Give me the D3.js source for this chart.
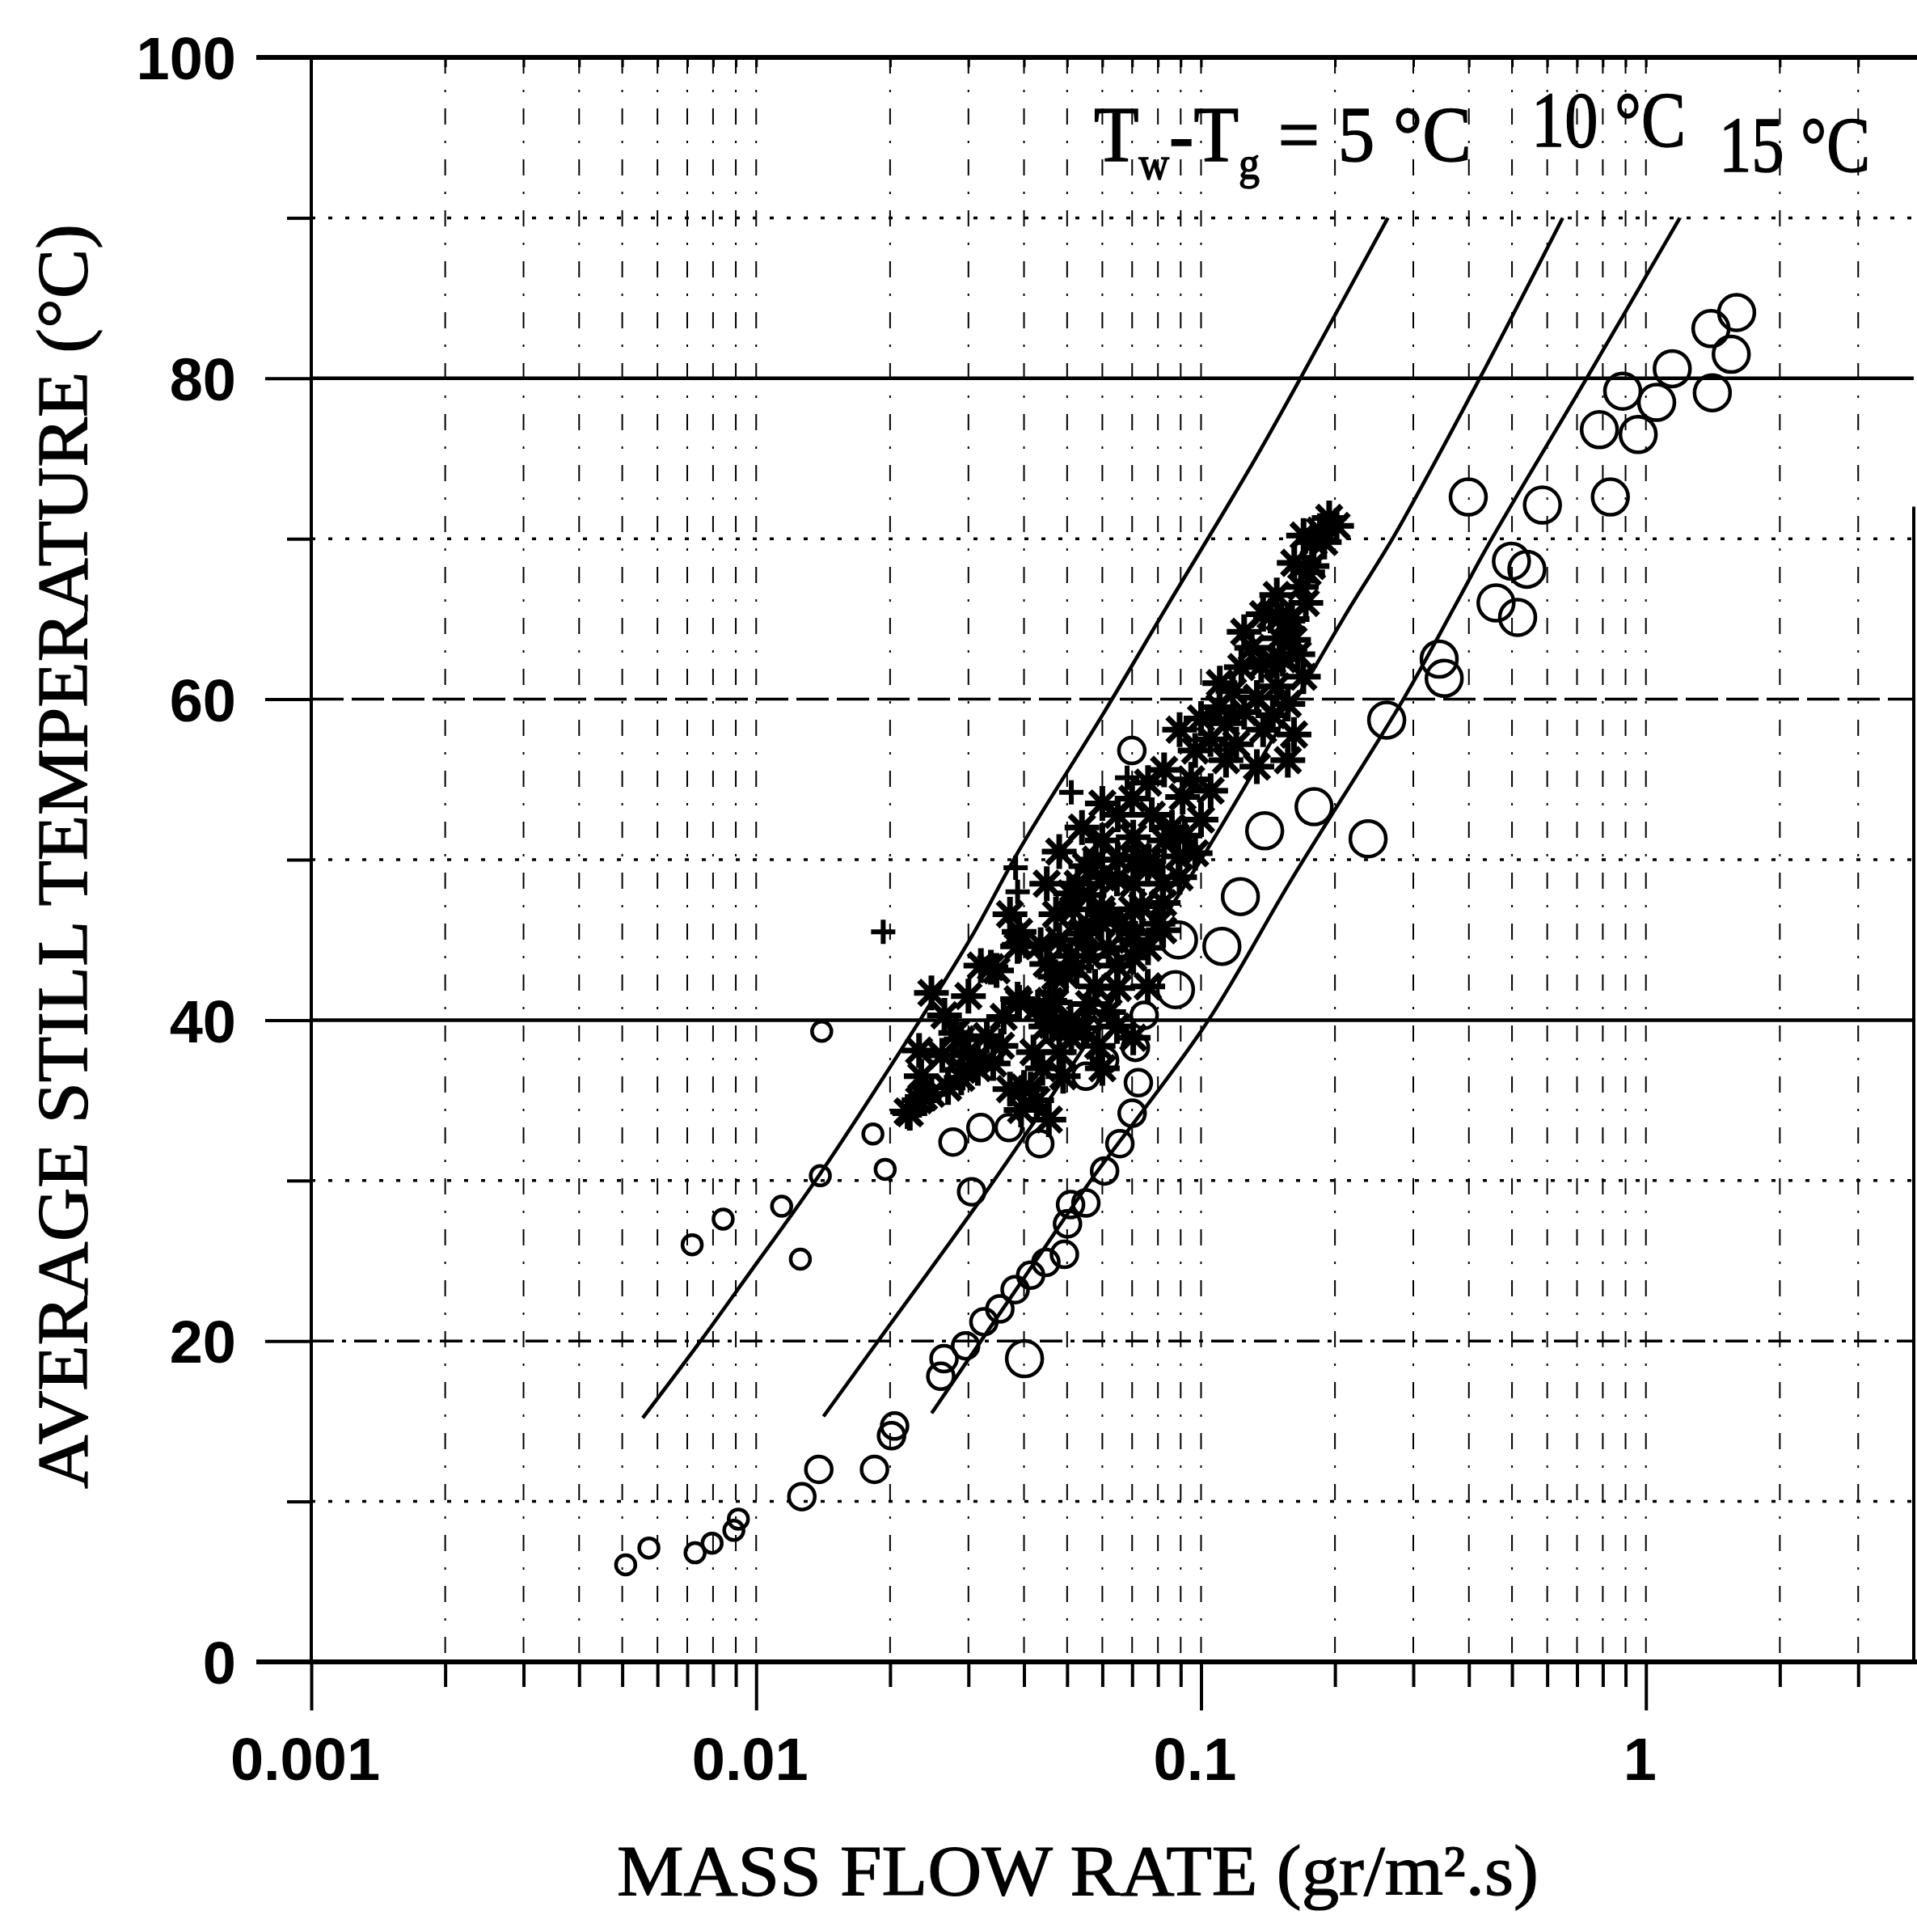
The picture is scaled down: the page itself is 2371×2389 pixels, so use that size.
<!DOCTYPE html>
<html>
<head>
<meta charset="utf-8">
<script src="https://cdn.jsdelivr.net/npm/d3@7"></script>
<style>
  body { margin: 0; background: #fff; }
  svg { display: block; }
</style>
</head>
<body>
<div id="chart"></div>
<script>
/* CONSTANTS AND GLOBALS */
const width = 2371,
  height = 2389;

// axes
const xMajorTicks = [0.001, 0.01, 0.1, 1];
const xTickLabels = ["0.001", "0.01", "0.1", "1"];
const yMajorTicks = [0, 20, 40, 60, 80, 100];
const yMinorTicks = [10, 30, 50, 70, 90];

// Tw-Tg curves [mass flow, temperature]
const curve5 = [[0.00556, 15.2], [0.0075, 20.0], [0.0097, 24.3], [0.0136, 30.0], [0.0236, 40.2],
  [0.0305, 45.2], [0.0394, 50.8], [0.0600, 59.0], [0.0839, 65.8], [0.130, 74.6], [0.168, 80.1], [0.263, 90.0]];
const curve10 = [[0.01417, 15.3], [0.0188, 20.0], [0.0325, 29.1], [0.047, 35.6], [0.0597, 40.0],
  [0.0657, 42.1], [0.100, 50.0], [0.170, 60.8], [0.217, 65.8], [0.272, 70.2], [0.425, 80.1], [0.650, 90.0]];
const curve15 = [[0.0248, 15.5], [0.0425, 25.0], [0.0565, 30.0], [0.1028, 39.8], [0.160, 48.8],
  [0.285, 60.0], [0.372, 65.8], [0.446, 69.8], [0.732, 79.9], [1.192, 90.0]];
const curveNames = ["5", "10", "15"];

// measured points
const circlesSmall = [[0.00509, 6.05], [0.00574, 7.1], [0.00729, 6.8], [0.00796, 7.4], [0.00891, 8.2],
  [0.00912, 8.9], [0.00718, 26.0], [0.00843, 27.6], [0.01141, 28.4], [0.01257, 25.1], [0.01394, 30.3],
  [0.01404, 39.3], [0.0183, 32.9], [0.0195, 30.7]];

const circlesMedium = [[0.01267, 10.3], [0.01383, 12.0], [0.01845, 12.0], [0.02015, 14.1], [0.02047, 14.7],
  [0.0260, 17.8], [0.02644, 18.9], [0.02957, 19.7], [0.0325, 21.2], [0.0353, 22.0], [0.0382, 23.2],
  [0.0414, 24.1], [0.0448, 24.9], [0.0493, 25.4], [0.0501, 27.3], [0.0509, 28.5], [0.0551, 28.6],
  [0.0607, 30.6], [0.0657, 32.3], [0.0700, 34.2], [0.0723, 36.1], [0.0712, 38.3], [0.0607, 37.5],
  [0.0551, 36.5], [0.0745, 40.3], [0.0305, 29.3], [0.0277, 32.4], [0.0320, 33.3], [0.0370, 33.3],
  [0.0434, 32.3], [0.0699, 56.8]];

const circlesLarge = [[0.0401, 18.9], [0.0876, 41.9], [0.0890, 45.0], [0.1114, 44.6], [0.1226, 47.7],
  [0.1390, 51.8], [0.1795, 53.3], [0.2374, 51.3], [0.2614, 58.7], [0.343, 62.5], [0.352, 61.3],
  [0.3987, 72.6], [0.5852, 72.1], [0.8318, 72.6], [0.4985, 68.6], [0.5401, 68.1], [0.4603, 66.0],
  [0.5147, 65.1], [0.8866, 79.2], [1.057, 78.5], [1.146, 80.6], [0.9607, 76.5], [0.786, 76.8],
  [1.410, 79.1], [1.40, 83.1], [1.555, 81.5], [1.599, 84.1]];

const stars = [[0.02215, 34.2], [0.02324, 35.0], [0.02477, 35.4], [0.02384, 35.2], [0.0219, 34.3],
  [0.02324, 38.1], [0.02477, 41.7], [0.0281, 39.2], [0.0289, 38.8], [0.0291, 36.9], [0.0289, 36.4],
  [0.0315, 37.7], [0.0315, 37.0], [0.0341, 37.3], [0.0372, 35.7], [0.0400, 35.8], [0.0414, 35.7],
  [0.0427, 35.0], [0.0394, 34.4], [0.0455, 33.8], [0.0448, 39.6], [0.0462, 39.7], [0.0509, 40.0],
  [0.0587, 38.4], [0.0647, 39.6], [0.0390, 41.1], [0.0387, 41.3], [0.0470, 41.1], [0.0470, 42.7],
  [0.0525, 43.3], [0.0320, 43.4], [0.0347, 43.1], [0.0337, 43.3], [0.0387, 44.6], [0.0390, 45.5],
  [0.0390, 44.7], [0.0436, 44.7], [0.0497, 42.8], [0.0457, 41.2], [0.0511, 38.9], [0.0704, 38.9],
  [0.0600, 37.0], [0.0578, 42.1], [0.0759, 42.1], [0.0650, 42.0], [0.0704, 43.9], [0.0647, 43.4],
  [0.0509, 44.0], [0.0516, 46.9], [0.0597, 46.0], [0.0737, 47.1], [0.0551, 49.6], [0.0647, 48.8],
  [0.0759, 49.6], [0.0890, 50.2], [0.0509, 47.9], [0.0597, 46.9], [0.0700, 46.9], [0.0822, 47.3],
  [0.0551, 45.4], [0.0700, 45.0], [0.0822, 45.6], [0.0472, 46.6], [0.0600, 46.6], [0.0704, 45.4],
  [0.0537, 45.4], [0.0528, 48.5], [0.0704, 48.5], [0.0895, 48.9], [0.0600, 48.9], [0.0763, 49.9],
  [0.0970, 50.4], [0.0600, 51.2], [0.0704, 51.4], [0.0826, 51.2], [0.0650, 52.8], [0.0775, 52.8],
  [0.0909, 53.9], [0.1051, 54.3], [0.0826, 55.6], [0.0970, 56.8], [0.1138, 56.2], [0.1335, 55.8],
  [0.1567, 56.2], [0.0895, 58.1], [0.1138, 58.5], [0.1379, 58.1], [0.1618, 57.8], [0.1102, 61.0],
  [0.1335, 60.1], [0.1567, 59.7], [0.1232, 62.0], [0.1446, 62.4], [0.1698, 61.4], [0.1379, 65.3],
  [0.1567, 64.9], [0.1365, 62.1], [0.1527, 62.5], [0.1433, 65.2], [0.1602, 65.0], [0.1736, 67.9],
  [0.1791, 69.8], [0.1941, 71.3], [0.1614, 63.7], [0.172, 66.0], [0.1776, 68.3], [0.1892, 69.8],
  [0.2017, 70.8], [0.1680, 67.0], [0.1850, 70.5], [0.0372, 46.6],
  [0.0235, 36.5], [0.0262, 37.8], [0.0270, 35.8], [0.0300, 38.0], [0.0330, 39.0], [0.0355, 38.4],
  [0.0360, 40.2], [0.0420, 38.0], [0.0440, 37.0], [0.0480, 38.0], [0.0490, 36.5], [0.0430, 40.8],
  [0.0545, 39.5], [0.0560, 41.0], [0.0620, 40.5], [0.0300, 41.5], [0.0265, 40.3],
  [0.0450, 43.5], [0.0480, 45.0], [0.0560, 44.0], [0.0620, 44.5], [0.0660, 46.0], [0.0760, 44.5],
  [0.0800, 46.0], [0.0560, 47.8], [0.0650, 50.0], [0.0720, 50.2], [0.0820, 48.5], [0.0860, 52.0],
  [0.0700, 53.8], [0.0600, 53.5], [0.0760, 54.8], [0.0950, 55.0], [0.1000, 52.5], [0.0580, 50.0],
  [0.0450, 48.5], [0.0480, 50.5], [0.0540, 52.0], [0.0920, 51.5],
  [0.1050, 57.5], [0.1200, 57.2], [0.1250, 59.2], [0.1450, 59.0], [0.1180, 60.5], [0.1480, 60.8],
  [0.1300, 63.2], [0.1500, 63.8], [0.1250, 64.2], [0.1650, 62.8], [0.1480, 66.5], [0.1620, 68.5],
  [0.1700, 70.2], [0.1100, 59.5], [0.1000, 58.8]];

const pluses = [[0.0193, 45.5], [0.0387, 48.0], [0.0383, 49.5], [0.0511, 54.2], [0.0682, 55.1]];

let svg, xScale, yScale;

init();

function init() {
  // SCALES
  xScale = d3.scaleLog().domain([0.001, 4]).range([385, 2367]);
  yScale = d3.scaleLinear().domain([0, 100]).range([2055, 71]);

  svg = d3.select("#chart").append("svg")
    .attr("width", width)
    .attr("height", height);

  svg.append("rect").attr("width", width).attr("height", height).attr("fill", "#fff");

  const allXTicks = xScale.ticks().filter(d => d > 0.001 && d < 4);
  const xMinorTicks = allXTicks.filter(d => !xMajorTicks.some(m => Math.abs(m - d) < 1e-9));

  // GRID: vertical dashed lines
  svg.append("g")
    .selectAll("line")
    .data(allXTicks)
    .join("line")
    .attr("x1", d => xScale(d)).attr("x2", d => xScale(d))
    .attr("y1", yScale(100)).attr("y2", yScale(0))
    .attr("stroke", "#000")
    .attr("stroke-width", 2)
    .attr("stroke-dasharray", "20,20,3,20");

  // GRID: horizontal lines
  const hStyle = { 10: "5,16", 20: "28,10,5,10", 30: "5,16", 40: null, 50: "5,16",
    60: "40,10", 70: "5,16", 80: null, 90: "5,16" };
  svg.append("g")
    .selectAll("line")
    .data(d3.range(10, 100, 10))
    .join("line")
    .attr("x1", xScale(0.001)).attr("x2", xScale(4))
    .attr("y1", d => yScale(d)).attr("y2", d => yScale(d))
    .attr("stroke", "#000")
    .attr("stroke-width", d => hStyle[d] ? 3.5 : 4.5)
    .attr("stroke-dasharray", d => hStyle[d]);

  // AXES
  const xAxisMajor = d3.axisBottom(xScale)
    .tickValues(xMajorTicks)
    .tickSize(60)
    .tickPadding(33)
    .tickFormat((d, i) => xTickLabels[i]);
  const xAxisMinor = d3.axisBottom(xScale)
    .tickValues(xMinorTicks)
    .tickSize(31)
    .tickFormat("");
  const xAxisTop = d3.axisBottom(xScale)
    .tickValues(allXTicks)
    .tickSize(12)
    .tickFormat("");
  const yAxisMajor = d3.axisLeft(yScale)
    .tickValues(yMajorTicks)
    .tickSize(57)
    .tickPadding(36);
  const yAxisMinor = d3.axisLeft(yScale)
    .tickValues(yMinorTicks)
    .tickSize(30)
    .tickFormat("");

  const axes = svg.append("g")
    .attr("font-family", "'Liberation Sans', Arial, sans-serif")
    .attr("font-weight", "bold");

  [xAxisMajor, xAxisMinor].forEach(ax => {
    axes.append("g")
      .attr("transform", `translate(0, ${yScale(0)})`)
      .call(ax)
      .call(g => g.select(".domain").remove())
      .call(g => g.selectAll("line").attr("stroke", "#000").attr("stroke-width", 4))
      .call(g => g.selectAll("text").attr("font-size", 74).attr("fill", "#000").attr("dx", -8));
  });

  axes.append("g")
    .attr("transform", `translate(0, ${yScale(100)})`)
    .call(xAxisTop)
    .call(g => g.select(".domain").remove())
    .call(g => g.selectAll("line").attr("stroke", "#000").attr("stroke-width", 3));

  [yAxisMajor, yAxisMinor].forEach(ax => {
    axes.append("g")
      .attr("transform", `translate(${xScale(0.001)}, 0)`)
      .call(ax)
      .call(g => g.select(".domain").remove())
      .call(g => g.selectAll("line").attr("stroke", "#000").attr("stroke-width", 4))
      .call(g => g.selectAll("text").attr("font-size", 74).attr("fill", "#000").attr("dy", "0.36em"));
  });

  // frame lines
  const frame = svg.append("g").attr("stroke", "#000");
  frame.append("line")
    .attr("x1", 317).attr("x2", width)
    .attr("y1", yScale(100)).attr("y2", yScale(100))
    .attr("stroke-width", 6);
  frame.append("line")
    .attr("x1", 317).attr("x2", width)
    .attr("y1", yScale(0)).attr("y2", yScale(0))
    .attr("stroke-width", 6);
  frame.append("line")
    .attr("x1", xScale(0.001)).attr("x2", xScale(0.001))
    .attr("y1", yScale(100)).attr("y2", yScale(0))
    .attr("stroke-width", 4);
  frame.append("line")
    .attr("x1", xScale(4)).attr("x2", xScale(4))
    .attr("y1", yScale(72)).attr("y2", yScale(0))
    .attr("stroke-width", 4);

  draw();
}

function draw() {
  // CURVES
  const line = d3.line()
    .x(d => xScale(d[0]))
    .y(d => yScale(d[1]))
    .curve(d3.curveCatmullRom);

  svg.append("g")
    .selectAll("path")
    .data([curve5, curve10, curve15])
    .join("path")
    .attr("class", (d, i) => "curve-" + curveNames[i])
    .attr("d", line)
    .attr("fill", "none")
    .attr("stroke", "#000")
    .attr("stroke-width", 4.5);

  // CIRCLES
  const circleSets = [
    { data: circlesSmall, r: 12 },
    { data: circlesMedium, r: 16 },
    { data: circlesLarge, r: 22 }
  ];
  circleSets.forEach(set => {
    svg.append("g")
      .selectAll("circle")
      .data(set.data)
      .join("circle")
      .attr("cx", d => xScale(d[0]))
      .attr("cy", d => yScale(d[1]))
      .attr("r", set.r)
      .attr("fill", "none")
      .attr("stroke", "#000")
      .attr("stroke-width", 4.5);
  });

  // STARS (8-arm asterisks)
  const starR = 18;
  let starD = "";
  for (let k = 0; k < 4; k++) {
    const a = k * Math.PI / 4;
    starD += `M${-starR * Math.cos(a)},${-starR * Math.sin(a)}L${starR * Math.cos(a)},${starR * Math.sin(a)}`;
  }
  const starG = svg.append("g")
    .selectAll("g")
    .data(stars)
    .join("g")
    .attr("transform", d => `translate(${xScale(d[0])},${yScale(d[1])})`);
  starG.append("path")
    .attr("d", starD)
    .attr("stroke", "#000")
    .attr("stroke-width", 7)
    .attr("stroke-linecap", "square");
  starG.append("circle")
    .attr("r", 9)
    .attr("fill", "#000");

  // PLUSES
  svg.append("g")
    .selectAll("path")
    .data(pluses)
    .join("path")
    .attr("transform", d => `translate(${xScale(d[0])},${yScale(d[1])})`)
    .attr("d", "M-15,0L15,0M0,-15L0,15")
    .attr("stroke", "#000")
    .attr("stroke-width", 6);

  // AXIS TITLES
  const serif = "'Liberation Serif', 'Times New Roman', serif";
  svg.append("text")
    .attr("x", 1333).attr("y", 2343)
    .attr("text-anchor", "middle")
    .attr("font-family", serif)
    .attr("font-size", 89)
    .attr("stroke", "#000").attr("stroke-width", 1.2)
    .attr("textLength", 1140)
    .attr("lengthAdjust", "spacingAndGlyphs")
    .text("MASS FLOW RATE (gr/m².s)");

  svg.append("text")
    .attr("transform", `translate(107, 1059) rotate(-90)`)
    .attr("text-anchor", "middle")
    .attr("font-family", serif)
    .attr("font-size", 89)
    .attr("stroke", "#000").attr("stroke-width", 1.2)
    .attr("textLength", 1564)
    .attr("lengthAdjust", "spacingAndGlyphs")
    .text("AVERAGE STILL TEMPERATURE (°C)");

  // CURVE LABELS
  const lab = svg.append("g")
    .attr("font-family", serif)
    .attr("font-size", 98)
    .attr("stroke", "#000")
    .attr("stroke-width", 1.5);

  const g5 = lab.append("g");
  const t5 = g5.append("text");
  t5.append("tspan").text("T");
  t5.append("tspan").attr("font-size", 56).attr("dy", 22).text("w");
  t5.append("tspan").attr("dy", -22).text("-T");
  t5.append("tspan").attr("font-size", 56).attr("dy", 22).text("g");
  t5.append("tspan").attr("dy", -22).text(" = 5 °C");
  fitGroup(g5, t5, 1353, 199, 467);

  const g10 = lab.append("g");
  const t10 = g10.append("text").text("10 °C");
  fitGroup(g10, t10, 1894, 181, 191);

  const g15 = lab.append("g");
  const t15 = g15.append("text").text("15 °C");
  fitGroup(g15, t15, 2126, 212, 187);
}

function fitGroup(g, t, x, y, w) {
  const bb = t.node().getBBox();
  const s = w / bb.width;
  g.attr("transform", `translate(${x - bb.x * s}, ${y}) scale(${s}, 1)`);
}
</script>
</body>
</html>
